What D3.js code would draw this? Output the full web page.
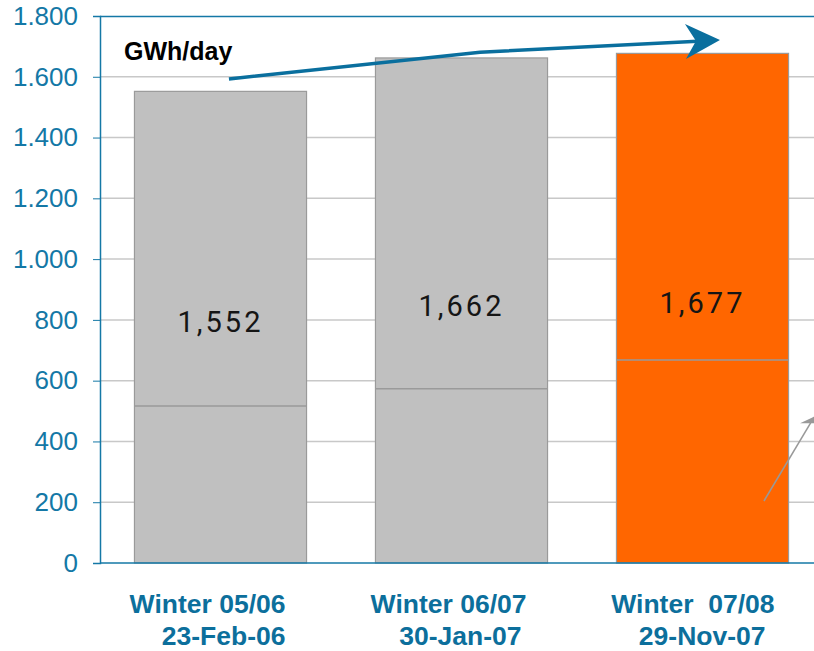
<!DOCTYPE html>
<html>
<head>
<meta charset="utf-8">
<script src="https://cdn.jsdelivr.net/npm/d3@7"></script>
<style>
  body { margin: 0; background: #fff; }
  svg { display: block; }
</style>
</head>
<body>
<svg width="814" height="651"></svg>
<script>
// data
var winters = ["Winter 05/06", "Winter 06/07", "Winter  07/08"];
var peakDates = ["23-Feb-06", "30-Jan-07", "29-Nov-07"];
var totals = [1552, 1662, 1677];
var baseParts = [517, 573, 668];
var barColors = ["#c0c0c0", "#c0c0c0", "#ff6600"];
var yTicks = [0, 200, 400, 600, 800, 1000, 1200, 1400, 1600, 1800];
// annotation arrows, [band units, GWh/day]
var trendArrow = [[0.535, 1593], [1.577, 1681], [2.5, 1718], [2.56, 1721]];
var pointerArrow = [[2.755, 204], [2.963, 480]];

var svg = d3.select("svg");
var plotLeft = 100, plotTop = 16, plotBottom = 563, plotRight = 823;
var blue = "#1478a6";

var x = d3.scaleBand().domain(winters).range([plotLeft, plotRight]).paddingInner(0.286).paddingOuter(0.143);
var y = d3.scaleLinear().domain([0, 1800]).range([plotBottom, plotTop]);
var u = d3.scaleLinear().domain([0, 3]).range([plotLeft, plotRight]);

var dotFmt = d3.formatLocale({decimal: ",", thousands: ".", grouping: [3], currency: ["", ""]}).format(",d");
var commaFmt = d3.format(",d");

// gridlines
svg.append("g").selectAll("line").data(yTicks.slice(1, -1)).join("line")
  .attr("x1", plotLeft).attr("x2", 814)
  .attr("y1", function(d) { return y(d); }).attr("y2", function(d) { return y(d); })
  .attr("stroke", "#c8c8c8").attr("stroke-width", 1.5);

// bars
var bars = svg.append("g");
bars.selectAll("rect").data(winters).join("rect")
  .attr("x", function(d) { return x(d); })
  .attr("width", x.bandwidth())
  .attr("y", function(d, i) { return y(totals[i]); })
  .attr("height", function(d, i) { return y(0) - y(totals[i]); })
  .attr("fill", function(d, i) { return barColors[i]; })
  .attr("stroke", "#9a9a9a").attr("stroke-width", 1.2);
bars.selectAll("line").data(winters).join("line")
  .attr("x1", function(d) { return x(d); })
  .attr("x2", function(d) { return x(d) + x.bandwidth(); })
  .attr("y1", function(d, i) { return y(baseParts[i]); })
  .attr("y2", function(d, i) { return y(baseParts[i]); })
  .attr("stroke", "#9a9a9a").attr("stroke-width", 1.5);
bars.selectAll("text").data(winters).join("text")
  .attr("x", function(d) { return x(d) + x.bandwidth() / 2; })
  .attr("y", function(d, i) { return y(totals[i] / 2) - 5; })
  .attr("dy", "0.35em")
  .attr("text-anchor", "middle")
  .style("font-family", "Roboto, sans-serif").style("font-size", "29px")
  .style("letter-spacing", "3px").attr("fill", "#151515")
  .text(function(d, i) { return commaFmt(totals[i]); });

// frame
svg.append("line").attr("x1", plotLeft).attr("x2", 814).attr("y1", plotTop + 0.5).attr("y2", plotTop + 0.5)
  .attr("stroke", blue).attr("stroke-width", 1.5);
svg.append("line").attr("x1", plotLeft).attr("x2", 814).attr("y1", plotBottom).attr("y2", plotBottom)
  .attr("stroke", blue).attr("stroke-width", 1.5);

// y axis
var yAxis = svg.append("g").attr("transform", "translate(" + plotLeft + ",0)")
  .call(d3.axisLeft(y).tickValues(yTicks).tickFormat(dotFmt).tickSize(7).tickPadding(15));
yAxis.select(".domain").attr("stroke", blue).attr("stroke-width", 1.5);
yAxis.selectAll(".tick line").attr("stroke", blue);
yAxis.selectAll(".tick text").attr("fill", blue)
  .style("font-family", "'Liberation Sans', Arial, sans-serif").style("font-size", "26px");

// category labels
var cats = svg.append("g")
  .style("font-family", "'Liberation Sans', Arial, sans-serif").style("font-size", "26.5px")
  .style("font-weight", "bold").attr("fill", "#0c6f9c");
cats.selectAll("text.w").data(winters).join("text").attr("class", "w")
  .attr("x", function(d, i) { return x(d) + x.bandwidth() / 2 + (i == 2 ? 72 : 65); })
  .attr("y", 613).attr("text-anchor", "end")
  .style("white-space", "pre")
  .text(function(d) { return d; });
cats.selectAll("text.dt").data(winters).join("text").attr("class", "dt")
  .attr("x", function(d, i) { return x(d) + x.bandwidth() / 2 + [65, 60, 63][i]; })
  .attr("y", 645).attr("text-anchor", "end")
  .text(function(d, i) { return peakDates[i]; });

// unit label
svg.append("text").attr("x", 124).attr("y", 60)
  .style("font-family", "'Liberation Sans', Arial, sans-serif").style("font-size", "25px")
  .style("font-weight", "bold").attr("fill", "#000").text("GWh/day");

// trend arrow
var line = d3.line().x(function(d) { return u(d[0]); }).y(function(d) { return y(d[1]); });
svg.append("path").attr("d", line(trendArrow.slice(0, 3)))
  .attr("fill", "none").attr("stroke", "#0a6f9e").attr("stroke-width", 3.5);
var tip = trendArrow[3];
var tx = u(tip[0]) + 3, ty = y(tip[1]);
svg.append("path")
  .attr("d", "M" + tx + "," + ty + "L" + (tx - 35) + "," + (ty - 16) + "L" + (tx - 24) + "," + (ty + 1)
    + "L" + (tx - 34) + "," + (ty + 19) + "Z")
  .attr("fill", "#0a6f9e");

// pointer arrow
svg.append("path").attr("d", line(pointerArrow))
  .attr("fill", "none").attr("stroke", "#999").attr("stroke-width", 1.5);
var p1 = pointerArrow[1];
var px = u(p1[0]), py = y(p1[1]);
svg.append("path")
  .attr("d", "M" + (px + 6) + "," + (py - 3) + "L" + (px - 14) + "," + (py + 6) + "L" + (px + 2) + "," + (py + 6) + "Z")
  .attr("fill", "#999");
</script>
</body>
</html>
